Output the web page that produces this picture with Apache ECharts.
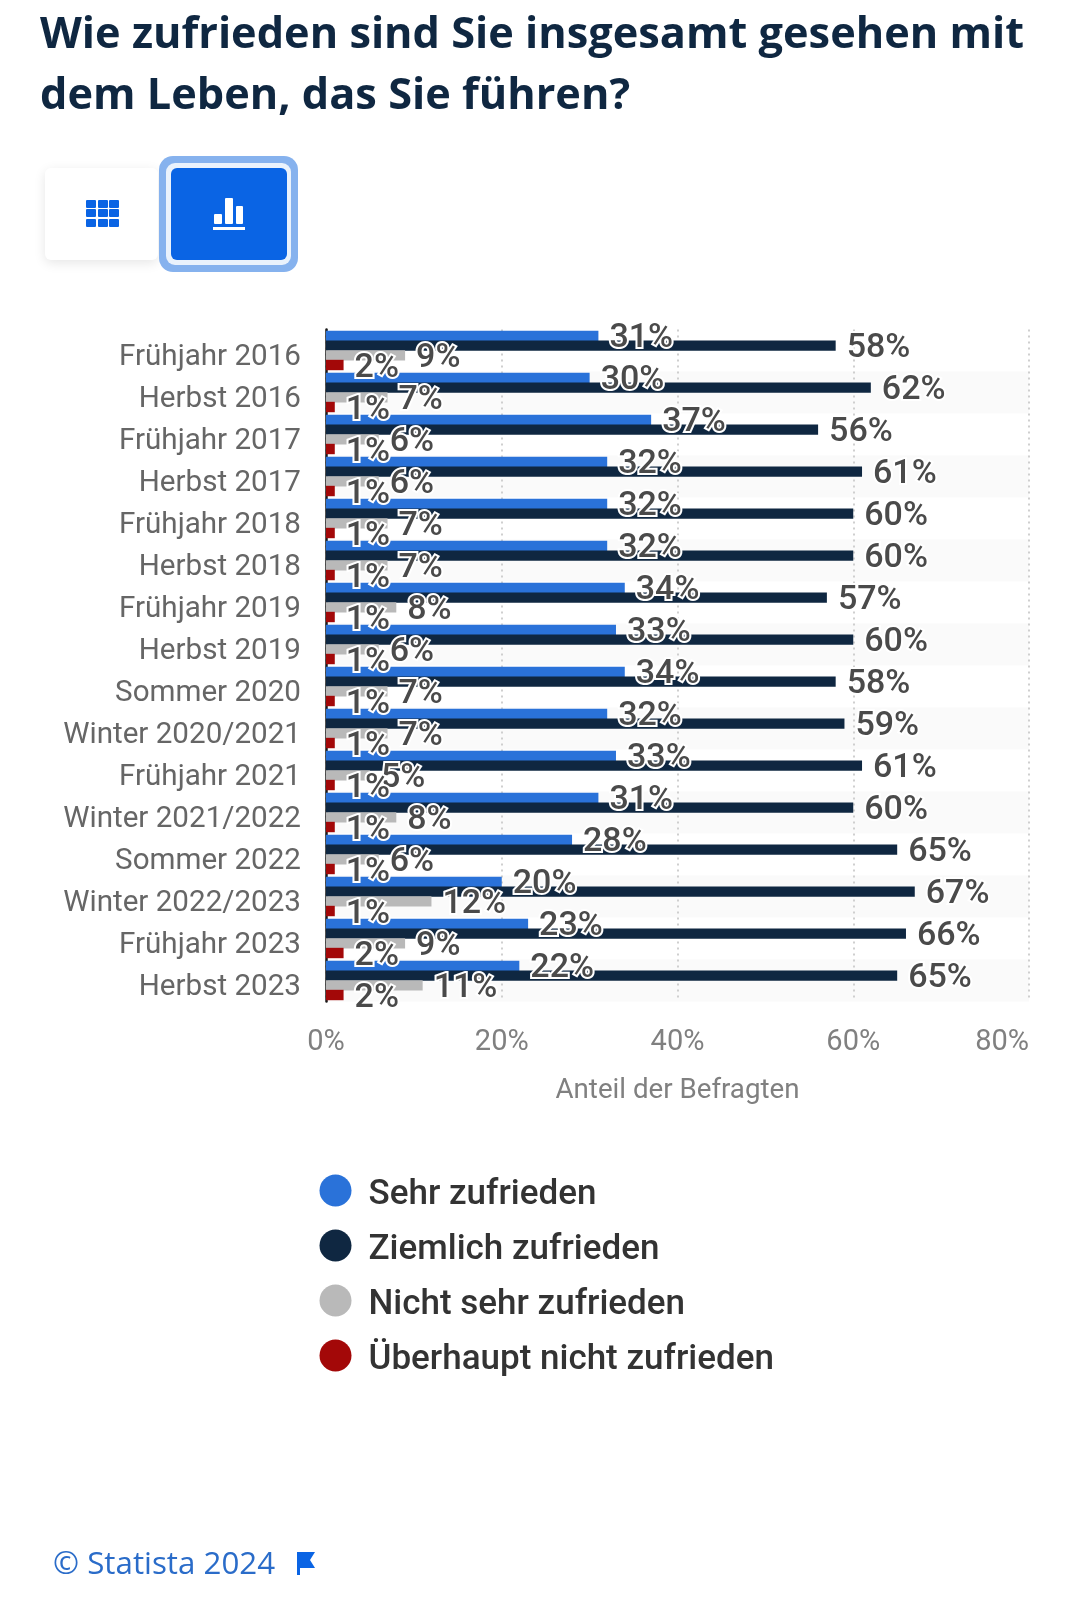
<!DOCTYPE html>
<html><head><meta charset="utf-8">
<style>html,body{margin:0;padding:0;background:#fff}#c{width:1080px;height:1599px}</style>
<script src="https://cdn.jsdelivr.net/npm/echarts@6/dist/echarts.min.js"></script>
</head><body><div id="c"></div>
<script>
const categories = ["Frühjahr 2016","Herbst 2016","Frühjahr 2017","Herbst 2017","Frühjahr 2018","Herbst 2018","Frühjahr 2019","Herbst 2019","Sommer 2020","Winter 2020/2021","Frühjahr 2021","Winter 2021/2022","Sommer 2022","Winter 2022/2023","Frühjahr 2023","Herbst 2023"];
const sehr = [31,30,37,32,32,32,34,33,34,32,33,31,28,20,23,22];
const ziemlich = [58,62,56,61,60,60,57,60,58,59,61,60,65,67,66,65];
const nichtSehr = [9,7,6,6,7,7,8,6,7,7,5,8,6,12,9,11];
const ueberhaupt = [2,1,1,1,1,1,1,1,1,1,1,1,1,1,2,2];
const xTicks = {min:0,max:80,interval:20};
const FONT = '"Open Sans","Noto Sans",sans-serif';
const FONT2 = 'Roboto,"Noto Sans",sans-serif';
const chart = echarts.init(document.getElementById('c'),null,{renderer:'canvas'});
function s(name,data,color){return {name,type:'bar',data,barWidth:10.4,barGap:'-7%',
  itemStyle:{color,borderWidth:0},
  label:{show:true,position:'right',distance:11,formatter:'{c}%',fontFamily:FONT2,fontSize:34,fontWeight:500,color:'#4a4a4a',textBorderColor:'#fff',textBorderWidth:4},
  labelLayout:{hideOverlap:false,dy:3},animation:false};}
const blue='#0a64e4';
const rect=(x,y,w,h,fill,r)=>({type:'rect',shape:{x,y,width:w,height:h,r:r||0},style:{fill}});
const gridIcon=[];
for(const [x,w] of [[86,10],[98,10],[109,10]]) for(const y of [200,209,219]) gridIcon.push(rect(x,y,w,8,blue,1));
chart.setOption({
  animation:false,
  textStyle:{fontFamily:FONT},
  title:{text:'Wie zufrieden sind Sie insgesamt gesehen mit\ndem Leben, das Sie führen?',left:35,top:0,
    textStyle:{fontFamily:FONT,fontSize:43.3,fontWeight:700,color:'#0f2741',lineHeight:61}},
  grid:{left:326,top:329.5,width:703,height:672,containLabel:false},
  xAxis:{type:'value',min:xTicks.min,max:xTicks.max,interval:xTicks.interval,
    axisLine:{show:false},axisTick:{show:false},
    axisLabel:{formatter:'{value}%',fontFamily:FONT2,fontSize:29,color:'#808080',margin:27,alignMaxLabel:'right'},
    splitLine:{show:true,lineStyle:{color:'#cfcfcf',type:[2,4],width:2}},
    name:'Anteil der Befragten',nameLocation:'middle',nameGap:76,
    nameTextStyle:{fontFamily:FONT2,fontSize:27.7,color:'#808080'}},
  yAxis:{type:'category',data:categories,inverse:true,
    axisLine:{show:true,lineStyle:{color:'#1a1a1a',width:2.5}},axisTick:{show:false},
    axisLabel:{fontFamily:FONT2,fontSize:29.6,color:'#666',margin:25,verticalAlign:'top',lineHeight:14},
    splitArea:{show:true,areaStyle:{color:['#ffffff','#fafafa']}}},
  legend:{orient:'vertical',left:314.5,top:1163,itemWidth:32,itemHeight:32,itemGap:10,icon:'circle',
    data:['Sehr zufrieden','Ziemlich zufrieden','Nicht sehr zufrieden','Überhaupt nicht zufrieden'],
    selectedMode:false,
    formatter:n=>'{a|'+n+'}',
    textStyle:{rich:{a:{fontFamily:FONT2,fontSize:35,fontWeight:500,color:'#333',lineHeight:30,padding:[10,0,0,12]}}}},
  series:[s('Sehr zufrieden',sehr,'#2a72d9'),s('Ziemlich zufrieden',ziemlich,'#0f2741'),s('Nicht sehr zufrieden',nichtSehr,'#b9b9b9'),s('Überhaupt nicht zufrieden',ueberhaupt,'#a30808')],
  graphic:[
    {type:'rect',shape:{x:45,y:168,width:113,height:92,r:6},style:{fill:'#fff',shadowBlur:12,shadowColor:'rgba(0,0,0,0.10)',shadowOffsetY:3}},
    ...gridIcon,
    rect(159,156,139,116,'#86b2ee',14),
    rect(166,163,125,102,'#eaf2fc',9),
    rect(171,168,116,92,blue,6),
    rect(214,214,8,10,'#fff',1),rect(225,198,8,26,'#fff',1),rect(236,206,7,18,'#fff',1),rect(213,227,32,3,'#fff',0),
    {type:'text',left:53,top:1550,style:{text:'© Statista 2024',font:'400 31.3px '+FONT,fill:'#2a6cc9'}},
    {type:'polygon',shape:{points:[[297,1552],[315,1552],[310,1560],[315,1568],[300,1568],[300,1575],[297,1575]]},style:{fill:blue}}
  ]
});
</script></body></html>
